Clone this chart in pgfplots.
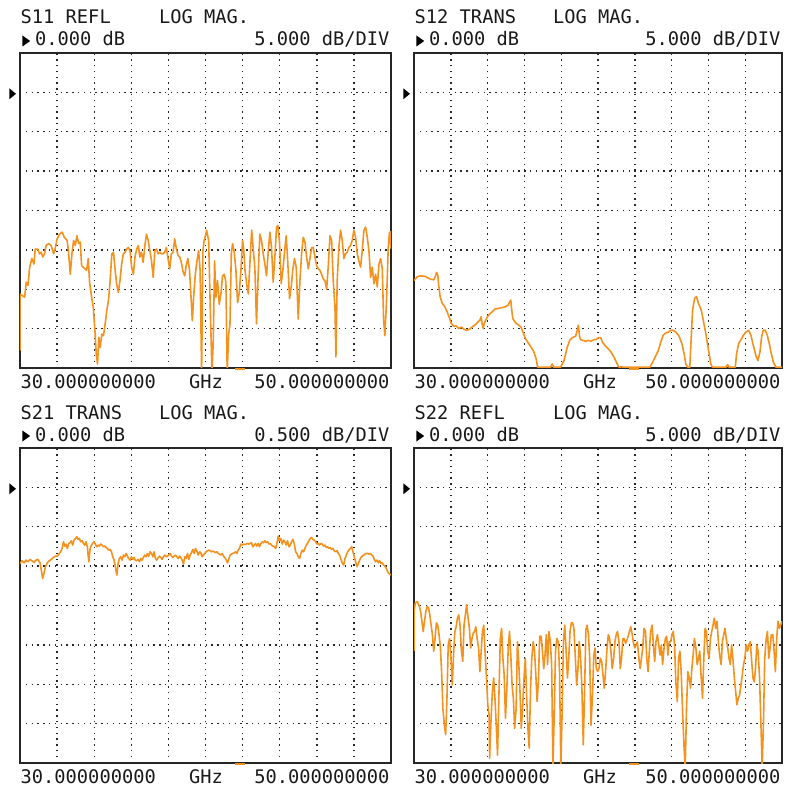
\documentclass[border=0pt]{standalone}
\usepackage{pgfplots}
\usepackage{pgfplotstable}
\usepackage{fontspec}
\pgfplotsset{compat=1.18}
\newfontfamily\mono{DejaVu Sans Mono}
\definecolor{trace}{RGB}{243,146,31}

\pgfplotstableread[row sep=\\]{
x y\\
30.00 -32.8\\ 30.00 -25.6\\ 30.25 -26.0\\ 30.34 -24.1\\ 30.43 -24.5\\ 30.52 -22.2\\ 30.64 -21.1\\ 30.75 -21.8\\
30.82 -19.9\\ 30.96 -19.9\\ 31.05 -20.5\\ 31.14 -20.3\\ 31.23 -20.9\\ 31.32 -20.5\\ 31.41 -19.45\\ 31.54 -19.2\\
31.68 -19.45\\ 31.82 -20.5\\ 31.89 -19.9\\ 32.00 -18.6\\ 32.13 -18.0\\ 32.27 -17.75\\ 32.39 -18.4\\ 32.54 -18.8\\
32.61 -20.1\\ 32.71 -23.1\\ 32.80 -20.5\\ 32.89 -18.8\\ 32.98 -19.45\\ 33.07 -18.2\\ 33.16 -19.2\\ 33.25 -19.0\\
33.32 -22.0\\ 33.41 -22.2\\ 33.50 -22.4\\ 33.59 -22.6\\ 33.68 -21.1\\ 33.75 -24.1\\ 33.86 -26.0\\ 33.95 -27.3\\
34.04 -30.3\\ 34.11 -33.2\\ 34.18 -34.5\\ 34.25 -31.1\\ 34.32 -32.4\\ 34.41 -30.7\\ 34.50 -30.9\\ 34.59 -29.4\\
34.68 -27.7\\ 34.77 -26.4\\ 34.86 -23.9\\ 34.95 -20.5\\ 35.04 -20.3\\ 35.13 -22.6\\ 35.21 -24.3\\ 35.30 -25.4\\
35.39 -23.9\\ 35.48 -21.8\\ 35.57 -20.5\\ 35.66 -20.3\\ 35.75 -19.9\\ 35.84 -19.7\\ 35.93 -20.1\\ 36.02 -22.2\\
36.11 -23.1\\ 36.20 -20.9\\ 36.29 -19.9\\ 36.38 -19.45\\ 36.46 -20.9\\ 36.55 -20.3\\ 36.64 -21.6\\ 36.73 -19.45\\
36.82 -18.0\\ 36.91 -18.8\\ 37.00 -20.1\\ 37.09 -21.4\\ 37.18 -23.5\\ 37.27 -20.1\\ 37.36 -19.9\\ 37.45 -20.5\\
37.54 -20.3\\ 37.63 -20.5\\ 37.71 -20.5\\ 37.80 -20.3\\ 37.89 -19.7\\ 37.98 -21.1\\ 38.07 -22.4\\ 38.16 -20.5\\
38.25 -20.3\\ 38.34 -18.6\\ 38.43 -19.9\\ 38.52 -20.7\\ 38.61 -20.9\\ 38.70 -21.6\\ 38.79 -22.8\\ 38.88 -23.3\\
38.96 -22.0\\ 39.05 -21.1\\ 39.14 -22.6\\ 39.23 -26.4\\ 39.29 -29.0\\ 39.36 -26.0\\ 39.45 -23.1\\ 39.54 -21.4\\
39.63 -20.1\\ 39.71 -22.6\\ 39.79 -35.5\\ 39.86 -20.1\\ 39.93 -18.8\\ 40.02 -18.0\\ 40.06 -17.5\\ 40.17 -18.8\\
40.26 -27.7\\ 40.35 -35.5\\ 40.42 -31.5\\ 40.49 -21.4\\ 40.56 -26.0\\ 40.65 -23.9\\ 40.74 -26.9\\ 40.83 -25.6\\
40.92 -23.3\\ 41.01 -23.1\\ 41.10 -24.1\\ 41.17 -35.5\\ 41.25 -30.7\\ 41.32 -29.4\\ 41.39 -20.5\\ 41.46 -19.2\\
41.55 -20.3\\ 41.64 -22.6\\ 41.73 -26.7\\ 41.82 -25.4\\ 41.91 -22.6\\ 42.00 -18.8\\ 42.05 -19.7\\ 42.13 -22.6\\
42.22 -24.3\\ 42.31 -25.6\\ 42.40 -21.4\\ 42.49 -17.5\\ 42.58 -20.1\\ 42.66 -22.2\\ 42.75 -29.4\\ 42.84 -23.1\\
42.93 -18.0\\ 43.02 -18.8\\ 43.11 -20.5\\ 43.20 -21.8\\ 43.29 -23.3\\ 43.38 -20.3\\ 43.47 -17.75\\ 43.56 -19.7\\
43.65 -24.1\\ 43.74 -20.9\\ 43.83 -17.1\\ 43.90 -16.9\\ 43.99 -19.0\\ 44.08 -24.3\\ 44.17 -22.6\\ 44.26 -20.3\\
44.35 -18.2\\ 44.44 -21.8\\ 44.53 -26.2\\ 44.62 -24.7\\ 44.71 -22.4\\ 44.80 -21.1\\ 44.89 -22.2\\ 45.00 -28.8\\
45.09 -23.9\\ 45.18 -20.5\\ 45.27 -18.4\\ 45.36 -19.0\\ 45.45 -20.9\\ 45.54 -22.4\\ 45.63 -21.1\\ 45.72 -19.7\\
45.81 -19.7\\ 45.90 -20.9\\ 45.99 -22.0\\ 46.08 -22.4\\ 46.17 -22.6\\ 46.26 -23.1\\ 46.35 -23.7\\ 46.44 -23.9\\
46.53 -25.0\\ 46.62 -22.0\\ 46.71 -18.2\\ 46.80 -18.8\\ 46.89 -24.1\\ 46.98 -27.3\\ 47.03 -33.6\\ 47.10 -23.9\\
47.19 -19.7\\ 47.28 -17.5\\ 47.37 -18.8\\ 47.46 -21.1\\ 47.55 -20.5\\ 47.64 -20.3\\ 47.73 -19.7\\ 47.82 -19.45\\
47.91 -18.8\\ 48.00 -17.5\\ 48.09 -18.4\\ 48.18 -20.5\\ 48.27 -21.4\\ 48.36 -22.2\\ 48.45 -20.1\\ 48.54 -17.5\\
48.63 -17.1\\ 48.72 -18.4\\ 48.81 -20.1\\ 48.90 -23.5\\ 48.99 -22.2\\ 49.08 -24.3\\ 49.17 -23.1\\ 49.26 -24.7\\
49.35 -21.8\\ 49.44 -21.1\\ 49.53 -22.4\\ 49.60 -28.8\\ 49.67 -30.9\\ 49.76 -26.4\\ 49.85 -19.7\\ 49.92 -17.75\\
50.00 -19.8\\ 50.00 -17.6\\
}\sOneOne

\pgfplotstableread[row sep=\\]{
x y\\
30.00 -23.89\\ 30.16 -23.46\\ 30.34 -23.29\\ 30.62 -23.38\\ 30.89 -23.72\\ 31.07 -23.80\\ 31.16 -23.38\\ 31.22 -22.86\\
31.29 -23.16\\ 31.34 -24.44\\ 31.42 -25.94\\ 31.52 -26.71\\ 31.67 -27.22\\ 31.80 -27.86\\ 31.92 -28.59\\ 32.03 -29.36\\
32.16 -29.70\\ 32.29 -29.66\\ 32.43 -30.00\\ 32.58 -29.79\\ 32.72 -30.09\\ 32.85 -30.21\\ 33.01 -30.09\\ 33.16 -29.79\\
33.34 -29.49\\ 33.48 -29.15\\ 33.58 -28.93\\ 33.65 -28.50\\ 33.70 -29.36\\ 33.76 -30.00\\ 33.81 -29.36\\ 33.88 -29.02\\
33.99 -28.50\\ 34.10 -28.16\\ 34.25 -27.86\\ 34.39 -27.52\\ 34.57 -27.44\\ 34.75 -27.35\\ 34.97 -27.22\\ 35.12 -27.00\\
35.21 -26.58\\ 35.26 -26.37\\ 35.30 -27.44\\ 35.37 -28.72\\ 35.52 -29.27\\ 35.66 -29.49\\ 35.81 -29.79\\ 35.92 -30.43\\
36.06 -31.28\\ 36.24 -31.92\\ 36.39 -32.44\\ 36.52 -32.99\\ 36.64 -33.85\\ 36.72 -34.9\\ 37.42 -34.9\\ 37.51 -34.49\\
37.60 -34.9\\ 37.97 -34.9\\ 38.15 -34.06\\ 38.24 -33.20\\ 38.33 -32.35\\ 38.46 -31.50\\ 38.60 -31.15\\ 38.78 -30.98\\
38.87 -30.21\\ 38.93 -29.57\\ 39.00 -31.07\\ 39.06 -31.41\\ 39.18 -31.50\\ 39.33 -31.62\\ 39.47 -31.50\\ 39.62 -31.58\\
39.78 -31.41\\ 39.91 -31.37\\ 40.02 -31.15\\ 40.15 -31.15\\ 40.24 -31.71\\ 40.38 -32.14\\ 40.56 -32.56\\ 40.71 -32.99\\
40.87 -33.63\\ 41.00 -34.27\\ 41.11 -34.83\\ 41.18 -34.9\\ 41.29 -34.83\\ 41.36 -34.9\\ 42.81 -34.9\\ 42.92 -34.49\\
43.10 -33.63\\ 43.28 -32.78\\ 43.41 -31.71\\ 43.54 -30.85\\ 43.68 -30.56\\ 43.83 -30.43\\ 43.96 -30.21\\ 44.08 -30.21\\
44.23 -30.43\\ 44.41 -30.98\\ 44.56 -31.92\\ 44.68 -33.20\\ 44.77 -34.49\\ 44.88 -34.9\\ 44.99 -34.9\\ 45.06 -31.41\\
45.14 -27.65\\ 45.25 -26.15\\ 45.35 -25.94\\ 45.46 -26.79\\ 45.61 -27.65\\ 45.72 -28.93\\ 45.86 -30.64\\ 46.01 -32.78\\
46.13 -34.49\\ 46.22 -34.9\\ 46.95 -34.9\\ 47.04 -34.57\\ 47.13 -34.9\\ 47.46 -34.9\\ 47.53 -33.20\\ 47.64 -31.92\\
47.77 -31.41\\ 47.90 -30.85\\ 48.04 -30.43\\ 48.19 -30.21\\ 48.31 -30.85\\ 48.44 -32.14\\ 48.58 -33.42\\ 48.69 -34.06\\
48.80 -32.99\\ 48.89 -31.07\\ 48.98 -30.21\\ 49.09 -30.21\\ 49.20 -30.85\\ 49.31 -31.92\\ 49.42 -33.20\\ 49.53 -34.27\\
49.67 -34.9\\ 50.00 -34.9\\
}\sOneTwo

\pgfplotstableread[row sep=\\]{
x y\\
30.00 -0.966\\ 30.11 -0.932\\ 30.22 -0.958\\ 30.32 -0.924\\ 30.43 -0.945\\ 30.54 -0.915\\ 30.65 -0.932\\ 30.76 -0.953\\
30.86 -0.924\\ 30.97 -0.915\\ 31.08 -0.958\\ 31.15 -1.051\\ 31.22 -1.157\\ 31.29 -1.093\\ 31.37 -1.008\\ 31.47 -0.958\\
31.58 -0.932\\ 31.69 -0.915\\ 31.80 -0.890\\ 31.91 -0.873\\ 32.01 -0.873\\ 32.12 -0.839\\ 32.19 -0.818\\ 32.27 -0.775\\
32.34 -0.691\\ 32.41 -0.746\\ 32.48 -0.720\\ 32.55 -0.775\\ 32.63 -0.712\\ 32.70 -0.703\\ 32.77 -0.678\\ 32.84 -0.733\\
32.91 -0.669\\ 32.99 -0.648\\ 33.06 -0.627\\ 33.13 -0.661\\ 33.20 -0.648\\ 33.27 -0.691\\ 33.35 -0.678\\ 33.42 -0.712\\
33.49 -0.733\\ 33.56 -0.691\\ 33.63 -0.754\\ 33.71 -0.945\\ 33.78 -0.775\\ 33.85 -0.733\\ 33.92 -0.712\\ 33.99 -0.691\\
34.06 -0.720\\ 34.14 -0.754\\ 34.21 -0.733\\ 34.28 -0.746\\ 34.35 -0.720\\ 34.42 -0.733\\ 34.50 -0.754\\ 34.57 -0.746\\
34.64 -0.763\\ 34.71 -0.775\\ 34.78 -0.797\\ 34.86 -0.788\\ 34.93 -0.818\\ 35.00 -0.881\\ 35.07 -0.924\\ 35.14 -1.008\\
35.22 -1.114\\ 35.29 -0.966\\ 35.36 -0.903\\ 35.43 -0.881\\ 35.50 -0.924\\ 35.58 -0.860\\ 35.65 -0.881\\ 35.72 -0.839\\
35.79 -0.873\\ 35.86 -0.903\\ 35.94 -0.924\\ 36.01 -0.881\\ 36.08 -0.915\\ 36.15 -0.890\\ 36.22 -0.924\\ 36.29 -0.932\\
36.37 -0.915\\ 36.44 -0.945\\ 36.51 -0.903\\ 36.58 -0.924\\ 36.65 -0.890\\ 36.73 -0.860\\ 36.80 -0.881\\ 36.87 -0.839\\
36.94 -0.873\\ 37.01 -0.818\\ 37.09 -0.839\\ 37.16 -0.881\\ 37.23 -0.818\\ 37.30 -0.903\\ 37.37 -0.924\\ 37.45 -0.890\\
37.52 -0.873\\ 37.59 -0.890\\ 37.66 -0.915\\ 37.73 -0.881\\ 37.81 -0.860\\ 37.88 -0.881\\ 37.95 -0.873\\ 38.02 -0.860\\
38.09 -0.839\\ 38.17 -0.873\\ 38.24 -0.890\\ 38.31 -0.873\\ 38.38 -0.860\\ 38.45 -0.881\\ 38.53 -0.903\\ 38.60 -0.873\\
38.67 -0.890\\ 38.74 -0.924\\ 38.81 -0.975\\ 38.88 -0.881\\ 38.96 -0.903\\ 39.03 -0.839\\ 39.10 -0.915\\ 39.17 -0.860\\
39.24 -0.831\\ 39.32 -0.788\\ 39.39 -0.839\\ 39.46 -0.775\\ 39.53 -0.805\\ 39.60 -0.860\\ 39.68 -0.818\\ 39.75 -0.831\\
39.82 -0.881\\ 39.89 -0.860\\ 39.96 -0.839\\ 40.04 -0.818\\ 40.11 -0.805\\ 40.18 -0.797\\ 40.25 -0.805\\ 40.32 -0.818\\
40.40 -0.809\\ 40.47 -0.818\\ 40.54 -0.831\\ 40.61 -0.818\\ 40.68 -0.839\\ 40.76 -0.847\\ 40.83 -0.860\\ 40.90 -0.839\\
40.97 -0.873\\ 41.04 -0.890\\ 41.12 -0.924\\ 41.19 -0.958\\ 41.26 -0.903\\ 41.33 -0.860\\ 41.40 -0.847\\ 41.47 -0.839\\
41.55 -0.831\\ 41.62 -0.818\\ 41.69 -0.839\\ 41.76 -0.797\\ 41.83 -0.775\\ 41.91 -0.720\\ 41.98 -0.733\\ 42.05 -0.720\\
42.12 -0.725\\ 42.19 -0.720\\ 42.27 -0.712\\ 42.34 -0.720\\ 42.41 -0.712\\ 42.48 -0.703\\ 42.55 -0.754\\ 42.63 -0.733\\
42.70 -0.712\\ 42.77 -0.746\\ 42.84 -0.712\\ 42.91 -0.754\\ 42.99 -0.712\\ 43.06 -0.691\\ 43.13 -0.703\\ 43.20 -0.678\\
43.27 -0.703\\ 43.35 -0.691\\ 43.42 -0.720\\ 43.49 -0.712\\ 43.56 -0.733\\ 43.63 -0.746\\ 43.71 -0.754\\ 43.78 -0.775\\
43.85 -0.712\\ 43.92 -0.619\\ 43.99 -0.678\\ 44.06 -0.648\\ 44.14 -0.720\\ 44.21 -0.669\\ 44.28 -0.691\\ 44.35 -0.733\\
44.42 -0.678\\ 44.50 -0.754\\ 44.57 -0.733\\ 44.64 -0.691\\ 44.71 -0.661\\ 44.78 -0.712\\ 44.86 -0.818\\ 44.93 -0.839\\
45.00 -0.881\\ 45.07 -0.903\\ 45.14 -0.839\\ 45.22 -0.797\\ 45.29 -0.818\\ 45.36 -0.775\\ 45.43 -0.733\\ 45.50 -0.712\\
45.58 -0.678\\ 45.65 -0.648\\ 45.72 -0.636\\ 45.79 -0.661\\ 45.86 -0.669\\ 45.94 -0.691\\ 46.01 -0.720\\ 46.08 -0.712\\
46.15 -0.733\\ 46.22 -0.712\\ 46.29 -0.720\\ 46.37 -0.746\\ 46.44 -0.733\\ 46.51 -0.763\\ 46.58 -0.754\\ 46.65 -0.775\\
46.73 -0.763\\ 46.80 -0.788\\ 46.87 -0.775\\ 46.94 -0.805\\ 47.01 -0.818\\ 47.09 -0.805\\ 47.16 -0.839\\ 47.23 -0.860\\
47.30 -0.915\\ 47.37 -0.958\\ 47.45 -0.987\\ 47.52 -0.903\\ 47.59 -0.860\\ 47.66 -0.818\\ 47.73 -0.797\\ 47.81 -0.775\\
47.88 -0.754\\ 47.95 -0.818\\ 48.02 -0.881\\ 48.09 -0.945\\ 48.17 -1.008\\ 48.24 -0.966\\ 48.31 -0.924\\ 48.38 -0.890\\
48.45 -0.873\\ 48.53 -0.860\\ 48.60 -0.847\\ 48.67 -0.839\\ 48.74 -0.839\\ 48.81 -0.847\\ 48.88 -0.839\\ 48.96 -0.860\\
49.03 -0.873\\ 49.10 -0.915\\ 49.17 -0.945\\ 49.24 -0.924\\ 49.32 -0.958\\ 49.39 -0.932\\ 49.46 -0.966\\ 49.53 -0.958\\
49.60 -0.987\\ 49.68 -1.000\\ 49.75 -1.030\\ 49.82 -1.072\\ 49.89 -1.093\\ 50.00 -1.114\\
}\sTwoOne

\pgfplotstableread[row sep=\\]{
x y\\
30.00 -20.8\\ 30.00 -15.8\\ 30.07 -14.7\\ 30.18 -14.5\\ 30.29 -15.1\\ 30.36 -15.8\\ 30.43 -17.0\\ 30.50 -18.3\\
30.57 -17.0\\ 30.64 -15.8\\ 30.72 -15.1\\ 30.79 -15.3\\ 30.86 -16.2\\ 30.93 -17.5\\ 31.00 -18.7\\ 31.07 -20.8\\
31.14 -19.2\\ 31.22 -17.2\\ 31.29 -17.5\\ 31.36 -18.7\\ 31.43 -20.2\\ 31.50 -23.4\\ 31.57 -28.1\\ 31.65 -30.2\\
31.72 -31.4\\ 31.79 -26.8\\ 31.86 -20.0\\ 31.93 -19.2\\ 32.00 -21.3\\ 32.08 -25.1\\ 32.15 -21.3\\ 32.22 -18.3\\
32.29 -17.7\\ 32.36 -16.6\\ 32.43 -16.2\\ 32.50 -17.5\\ 32.58 -20.8\\ 32.65 -22.1\\ 32.72 -17.5\\ 32.79 -16.2\\
32.86 -14.9\\ 32.93 -16.4\\ 33.01 -17.9\\ 33.08 -20.4\\ 33.15 -19.2\\ 33.22 -18.5\\ 33.29 -18.3\\ 33.36 -17.7\\
33.43 -19.2\\ 33.51 -20.4\\ 33.58 -23.4\\ 33.65 -20.8\\ 33.72 -18.3\\ 33.79 -17.5\\ 33.86 -20.8\\ 33.94 -24.2\\
34.01 -27.6\\ 34.08 -28.9\\ 34.11 -34.4\\ 34.19 -29.3\\ 34.26 -25.9\\ 34.33 -24.2\\ 34.40 -26.8\\ 34.47 -30.2\\
34.54 -34.0\\ 34.62 -25.9\\ 34.69 -19.2\\ 34.76 -17.9\\ 34.83 -21.7\\ 34.90 -23.8\\ 34.97 -29.3\\ 35.04 -25.9\\
35.12 -20.4\\ 35.19 -18.3\\ 35.26 -21.3\\ 35.33 -25.1\\ 35.40 -26.8\\ 35.47 -30.6\\ 35.55 -28.1\\ 35.62 -19.6\\
35.69 -22.1\\ 35.76 -25.9\\ 35.83 -30.6\\ 35.90 -28.1\\ 35.98 -24.2\\ 36.05 -21.7\\ 36.12 -26.4\\ 36.19 -30.6\\
36.26 -33.1\\ 36.33 -25.9\\ 36.40 -21.7\\ 36.48 -19.6\\ 36.55 -20.8\\ 36.62 -23.8\\ 36.69 -27.2\\ 36.76 -24.7\\
36.83 -18.9\\ 36.91 -18.9\\ 36.98 -20.8\\ 37.05 -23.0\\ 37.12 -21.3\\ 37.19 -18.7\\ 37.26 -22.5\\ 37.33 -18.3\\
37.41 -19.6\\ 37.48 -22.5\\ 37.55 -35.5\\ 37.62 -28.9\\ 37.69 -20.8\\ 37.76 -19.2\\ 37.84 -19.6\\ 37.91 -23.4\\
37.98 -35.5\\ 38.05 -28.5\\ 38.12 -19.6\\ 38.19 -17.5\\ 38.27 -20.8\\ 38.34 -24.2\\ 38.41 -21.7\\ 38.48 -18.3\\
38.55 -17.2\\ 38.62 -17.2\\ 38.69 -17.9\\ 38.77 -21.7\\ 38.84 -25.1\\ 38.91 -23.0\\ 38.98 -19.6\\ 39.05 -21.5\\
39.12 -25.1\\ 39.20 -32.7\\ 39.27 -25.9\\ 39.34 -18.1\\ 39.41 -17.5\\ 39.48 -18.7\\ 39.55 -21.7\\ 39.62 -30.2\\
39.70 -26.4\\ 39.77 -21.3\\ 39.84 -20.4\\ 39.91 -23.0\\ 39.98 -23.4\\ 40.05 -23.0\\ 40.13 -21.7\\ 40.20 -22.1\\
40.27 -23.8\\ 40.34 -25.5\\ 40.41 -23.4\\ 40.49 -20.4\\ 40.56 -18.7\\ 40.63 -19.2\\ 40.70 -20.8\\ 40.77 -23.0\\
40.85 -21.7\\ 40.92 -19.6\\ 40.99 -18.7\\ 41.06 -18.3\\ 41.14 -19.6\\ 41.21 -23.0\\ 41.28 -21.7\\ 41.35 -19.2\\
41.42 -19.2\\ 41.50 -19.8\\ 41.57 -19.4\\ 41.64 -18.9\\ 41.71 -18.3\\ 41.78 -17.7\\ 41.86 -18.7\\ 41.93 -19.8\\
42.00 -20.4\\ 42.07 -20.0\\ 42.14 -19.6\\ 42.22 -21.7\\ 42.29 -23.0\\ 42.36 -21.7\\ 42.43 -20.4\\ 42.50 -17.9\\
42.58 -18.3\\ 42.65 -21.7\\ 42.72 -23.4\\ 42.79 -20.8\\ 42.86 -18.3\\ 42.94 -17.5\\ 43.01 -20.0\\ 43.08 -22.1\\
43.15 -19.6\\ 43.23 -18.7\\ 43.30 -20.0\\ 43.37 -21.3\\ 43.44 -20.0\\ 43.51 -22.5\\ 43.59 -20.4\\ 43.66 -19.2\\
43.73 -18.9\\ 43.80 -21.3\\ 43.87 -19.6\\ 43.95 -19.6\\ 44.02 -18.7\\ 44.09 -18.3\\ 44.16 -20.0\\ 44.23 -24.7\\
44.31 -27.2\\ 44.38 -21.7\\ 44.45 -20.8\\ 44.52 -23.4\\ 44.59 -28.1\\ 44.67 -32.7\\ 44.74 -35.5\\ 44.81 -28.1\\
44.88 -23.4\\ 44.96 -24.2\\ 45.03 -25.5\\ 45.10 -23.0\\ 45.17 -21.3\\ 45.24 -19.2\\ 45.32 -20.4\\ 45.39 -22.5\\
45.46 -21.7\\ 45.53 -20.8\\ 45.60 -23.8\\ 45.68 -26.8\\ 45.75 -21.7\\ 45.82 -17.9\\ 45.89 -18.3\\ 45.96 -20.8\\
46.04 -21.7\\ 46.11 -19.2\\ 46.18 -18.3\\ 46.25 -17.5\\ 46.32 -16.6\\ 46.40 -17.9\\ 46.47 -17.0\\ 46.54 -19.6\\
46.61 -21.3\\ 46.69 -22.5\\ 46.76 -19.6\\ 46.83 -18.7\\ 46.90 -17.9\\ 46.97 -19.2\\ 47.05 -20.4\\ 47.12 -21.7\\
47.19 -22.5\\ 47.26 -20.0\\ 47.33 -21.7\\ 47.41 -24.2\\ 47.48 -25.9\\ 47.55 -27.6\\ 47.62 -26.8\\ 47.69 -26.4\\
47.77 -25.1\\ 47.84 -23.8\\ 47.91 -22.5\\ 47.98 -21.7\\ 48.05 -20.0\\ 48.13 -20.8\\ 48.20 -20.0\\ 48.27 -19.6\\
48.34 -21.7\\ 48.42 -24.2\\ 48.49 -24.7\\ 48.56 -23.0\\ 48.63 -20.0\\ 48.70 -20.8\\ 48.78 -24.2\\ 48.85 -29.7\\
48.92 -35.5\\ 48.99 -30.2\\ 49.06 -21.7\\ 49.14 -19.2\\ 49.21 -18.3\\ 49.28 -21.7\\ 49.35 -20.4\\ 49.42 -18.7\\
49.50 -18.7\\ 49.57 -20.8\\ 49.64 -23.4\\ 49.71 -19.2\\ 49.78 -17.0\\ 49.86 -17.9\\ 50.00 -17.0\\
}\sTwoTwo

\pgfplotsset{
  vna/.style={
    scale only axis, anchor=north west,
    xmin=30, xmax=50,
    xtick={32,34,...,48}, xticklabels={}, yticklabels={},
    major tick length=0pt,
    grid=major,
    major grid style={black!85, line width=1.4pt, dash pattern=on 1.4pt off 4.4pt},
    axis line style={black!85, line width=2.1pt},
  },
  trc/.style={trace, line width=1.6pt, line join=round, mark=none},
}

\newcommand{\deco}[5]{%
  \begin{scope}[shift={(#1pt,#2pt)}]
    \node[anchor=base west] at (0.7pt,-24pt) {#4};
    \node[anchor=base west] at (139pt,-24pt) {LOG MAG.};
    \fill[black] (2.4pt,-35.5pt) -- (2.4pt,-46.5pt) -- (10.2pt,-41pt) -- cycle;
    \node[anchor=base west] at (15pt,-46pt) {0.000 dB};
    \node[anchor=base east] at (#3pt-1.5pt,-46pt) {#5 dB/DIV};
    \fill[black] (-10.7pt,-88.3pt) -- (-10.7pt,-99.3pt) -- (-4pt,-93.8pt) -- cycle;
    \node[anchor=base west] at (0.7pt,-388.3pt) {30.000000000};
    \node[anchor=base west] at (169pt,-388.3pt) {GHz};
    \node[anchor=base east] at (#3pt-1.5pt,-388.3pt) {50.000000000};
    \draw[trace, line width=2.2pt] (215pt,-369.2pt) -- (225pt,-369.2pt);
  \end{scope}}

\begin{document}
\begin{tikzpicture}[every node/.style={inner sep=0pt, outer sep=0pt, font=\mono\fontsize{18.7}{20}\selectfont, text=black!90}]
\useasboundingbox (0pt,0pt) rectangle (788pt,-791pt);

\begin{axis}[vna, at={(20pt,-53pt)}, width=371pt, height=315pt,
  ymin=-35, ymax=5, ytick={-30,-25,...,0}]
  \addplot[trc] table[x=x, y=y] {\sOneOne};
\end{axis}

\begin{axis}[vna, at={(414pt,-53pt)}, width=368pt, height=315pt,
  ymin=-35, ymax=5, ytick={-30,-25,...,0}]
  \addplot[trc] table[x=x, y=y] {\sOneTwo};
\end{axis}

\begin{axis}[vna, at={(20pt,-448pt)}, width=371pt, height=315pt,
  ymin=-3.5, ymax=0.5, ytick={-3,-2.5,...,0}]
  \addplot[trc] table[x=x, y=y] {\sTwoOne};
\end{axis}

\begin{axis}[vna, at={(414pt,-448pt)}, width=368pt, height=315pt,
  ymin=-35, ymax=5, ytick={-30,-25,...,0}]
  \addplot[trc] table[x=x, y=y] {\sTwoTwo};
\end{axis}

\deco{20}{0}{371}{S11 REFL}{5.000}
\deco{414}{0}{368}{S12 TRANS}{5.000}
\deco{20}{-395}{371}{S21 TRANS}{0.500}
\deco{414}{-395}{368}{S22 REFL}{5.000}
\end{tikzpicture}
\end{document}
